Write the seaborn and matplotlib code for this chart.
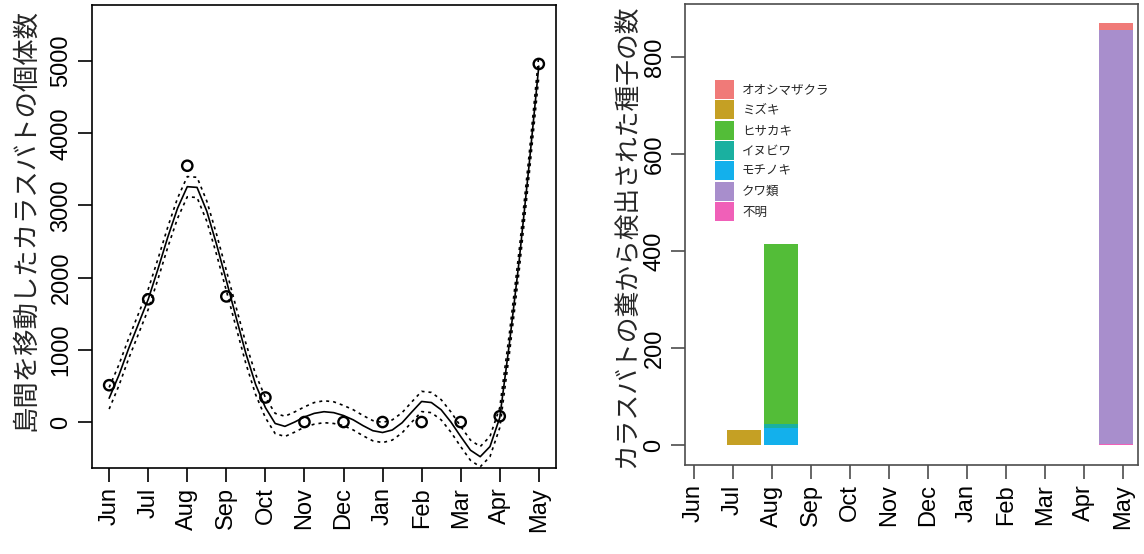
import numpy as np
import pandas as pd
import seaborn as sns
import matplotlib.pyplot as plt
from matplotlib.patches import Patch

# months (June to May)
months = ['Jun', 'Jul', 'Aug', 'Sep', 'Oct', 'Nov', 'Dec', 'Jan', 'Feb', 'Mar', 'Apr', 'May']
month_pos = np.arange(1, 13)

# birds moving between islands (observed points)
birds = [510, 1700, 3550, 1740, 340, 0, 0, 0, 0, 0, 80, 4960]

# smooth fit, every quarter month from Jun to May
fit_x = np.arange(1, 12.01, 0.25)
fit_y = [330, 650, 1020, 1360, 1700, 2120, 2560, 2960, 3260,
         3250, 2920, 2460, 1960, 1450, 950, 520, 200,
         -20, -60, 0, 70, 120, 143, 130, 90,
         30, -50, -120, -145, -110, -10, 140, 285,
         270, 170, 0, -200, -390, -480, -340, 60,
         1100, 2250, 3550, 4930]
fit_se = [150, 145, 140, 140, 140, 140, 140, 140, 140,
          140, 140, 140, 140, 140, 140, 140, 140,
          140, 140, 140, 140, 150, 152, 150, 140,
          140, 140, 140, 140, 140, 140, 140, 140,
          140, 140, 140, 140, 140, 140, 140, 140,
          140, 140, 140, 150]

# seeds found in droppings, per species and month
species = ['オオシマザクラ', 'ミズキ', 'ヒサカキ', 'イヌビワ', 'モチノキ', 'クワ類', '不明']
colors = ['#F07A78', '#C5A024', '#53BD38', '#1AB0A0', '#13B0EC', '#A88ECC', '#F060B8']
seeds = {
    'オオシマザクラ': [0, 0, 0, 0, 0, 0, 0, 0, 0, 0, 0, 14],
    'ミズキ':       [0, 31, 0, 0, 0, 0, 0, 0, 0, 0, 0, 0],
    'ヒサカキ':     [0, 0, 370, 0, 0, 0, 0, 0, 0, 0, 0, 0],
    'イヌビワ':     [0, 0, 8, 0, 0, 0, 0, 0, 0, 0, 0, 0],
    'モチノキ':     [0, 0, 36, 0, 0, 0, 0, 0, 0, 0, 0, 0],
    'クワ類':       [0, 0, 0, 0, 0, 0, 0, 0, 0, 0, 0, 854],
    '不明':         [0, 0, 0, 0, 0, 0, 0, 0, 0, 0, 0, 2],
}

sns.set_style("ticks")
plt.rcParams['font.family'] = ['Liberation Sans', 'Noto Sans CJK JP', 'DejaVu Sans']

fig = plt.figure(figsize=(11.44, 5.54), dpi=100)
ax1 = fig.add_axes([0.0804, 0.1552, 0.4056, 0.8357])
ax2 = fig.add_axes([0.5988, 0.1606, 0.3960, 0.8321])

# ---- left panel: fitted curve with dotted bands and points
fit_y = np.array(fit_y)
fit_se = np.array(fit_se)
sns.lineplot(x=fit_x, y=fit_y, ax=ax1, color='black', lw=1.2, sort=False, estimator=None)
for band in (fit_y + fit_se, fit_y - fit_se):
    sns.lineplot(x=fit_x, y=band, ax=ax1, color='black', lw=1.2, sort=False,
                 estimator=None, dashes=False, linestyle=(0, (1.8, 2.4)))
sns.scatterplot(x=month_pos, y=birds, ax=ax1, marker='o', s=55,
                facecolor='none', edgecolor='black', linewidth=1.7, zorder=3)

ax1.set_xlim(0.56, 12.44)
ax1.set_ylim(-637, 5776)
ax1.set_xticks(month_pos)
ax1.set_xticklabels(months, rotation=90)
ax1.set_yticks([0, 1000, 2000, 3000, 4000, 5000])
ax1.set_yticklabels(['0', '1000', '2000', '3000', '4000', '5000'], rotation=90, va='center')
ax1.set_ylabel('島間を移動したカラスバトの個体数', fontsize=19)
ax1.yaxis.set_label_coords(-0.116, 0.535)
for sp in ax1.spines.values():
    sp.set_visible(True)
    sp.set_color('black')
    sp.set_linewidth(1.2)

# ---- right panel: stacked bars of seeds
rows = []
for sp_name in species:
    for m, v in zip(month_pos, seeds[sp_name]):
        rows.append({'month': m, 'species': sp_name, 'count': v})
df = pd.DataFrame(rows)

sns.histplot(data=df, x='month', weights='count', hue='species', hue_order=species,
             palette=dict(zip(species, colors)), multiple='stack', discrete=True,
             shrink=1 / 1.1, alpha=1, linewidth=0, legend=False, ax=ax2)

ax2.set_xlim(0.414, 12.59)
ax2.set_ylim(-41, 909)
ax2.set_xticks([0.648 + 1.049 * k for k in range(12)])
ax2.set_xticklabels(months, rotation=90)
ax2.set_yticks([0, 200, 400, 600, 800])
ax2.set_yticklabels(['0', '200', '400', '600', '800'], rotation=90, va='center')
ax2.set_xlabel('')
ax2.set_ylabel('カラスバトの糞から検出された種子の数', fontsize=18.5)
ax2.yaxis.set_label_coords(-0.099, 0.497)
for sp in ax2.spines.values():
    sp.set_visible(True)
    sp.set_color('#4d4d4d')
    sp.set_linewidth(1.2)

handles = [Patch(facecolor=c, edgecolor='none', label=s) for s, c in zip(species, colors)]
fig.legend(handles=handles, loc='upper left', bbox_to_anchor=(715 / 1144, 1 - 80 / 554),
           bbox_transform=fig.transFigure, frameon=False, fontsize=9,
           borderpad=0, borderaxespad=0, handlelength=1.52, handleheight=1.96,
           labelspacing=0.11, handletextpad=0.64)

for ax, tc in ((ax1, 'black'), (ax2, '#4d4d4d')):
    ax.tick_params(axis='both', labelsize=17, length=10, width=1.2, color=tc,
                   direction='out', pad=4, labelcolor='black')

plt.savefig('out.png', dpi=100)
